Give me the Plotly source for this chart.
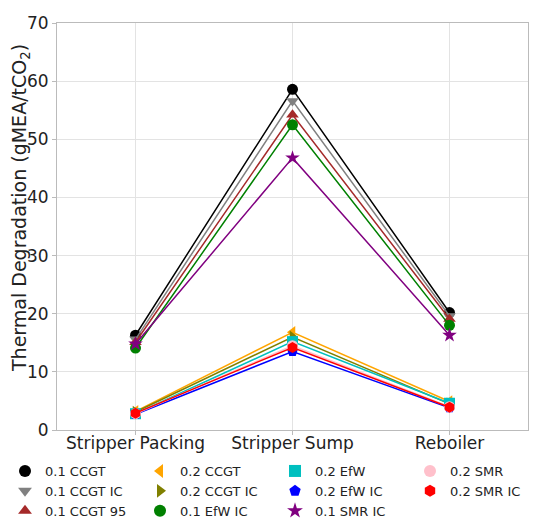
import plotly.graph_objects as go

stages = ["Stripper Packing", "Stripper Sump", "Reboiler"]

names = ["0.1 CCGT", "0.1 CCGT IC", "0.1 CCGT 95", "0.2 CCGT", "0.2 CCGT IC",
         "0.1 EfW IC", "0.2 EfW", "0.2 EfW IC", "0.1 SMR IC", "0.2 SMR", "0.2 SMR IC"]

v_01_ccgt = [16.3, 58.6, 20.2]
v_01_ccgt_ic = [15.6, 56.6, 19.6]
v_01_ccgt_95 = [15.1, 54.2, 19.1]
v_02_ccgt = [3.2, 16.8, 4.9]
v_02_ccgt_ic = [3.1, 16.0, 4.5]
v_01_efw_ic = [14.1, 52.5, 18.0]
v_02_efw = [2.8, 15.2, 4.6]
v_02_efw_ic = [2.7, 13.5, 3.8]
v_01_smr_ic = [14.8, 46.8, 16.3]
v_02_smr = [2.8, 14.5, 4.0]
v_02_smr_ic = [2.9, 14.2, 3.9]

values = [v_01_ccgt, v_01_ccgt_ic, v_01_ccgt_95, v_02_ccgt, v_02_ccgt_ic,
          v_01_efw_ic, v_02_efw, v_02_efw_ic, v_01_smr_ic, v_02_smr, v_02_smr_ic]

y_title = "Thermal Degradation (gMEA/tCO<sub>2</sub>)"

colors = ["black", "gray", "#a52a2a", "orange", "olive", "green", "#00bfbf",
          "blue", "purple", "pink", "red"]
symbols = ["circle", "triangle-down", "triangle-up", "triangle-left", "triangle-right",
           "circle", "square", "pentagon", "star", "circle", "hexagon"]

# legend ranks (row-major layout reproducing column-major order)
legend_pos = {0: 0, 1: 4, 2: 8, 3: 1, 4: 5, 5: 9, 6: 2, 7: 6, 8: 10, 9: 3, 10: 7}

W, H = 547, 518
L, R, T, B = 57, 528, 23, 430

fig = go.Figure()
for i, (n, v) in enumerate(zip(names, values)):
    fig.add_trace(go.Scatter(
        x=stages, y=v, mode="lines+markers", name=n, showlegend=False,
        line=dict(color=colors[i], width=1.5),
        marker=dict(color=colors[i], symbol=symbols[i], size=11),
    ))
for i, n in enumerate(names):
    fig.add_trace(go.Scatter(
        x=[None], y=[None], mode="markers", name=n,
        marker=dict(color=colors[i], symbol=symbols[i], size=11),
        legendrank=100 + legend_pos[i],
    ))

fig.update_layout(
    width=W, height=H,
    margin=dict(l=0, r=0, t=0, b=0, autoexpand=False),
    plot_bgcolor="white", paper_bgcolor="white",
    font=dict(family="DejaVu Sans", color="#222", size=13),
    legend=dict(orientation="h", x=5 / W, xanchor="left", y=(H - 456) / H, yanchor="top",
                entrywidth=90, font=dict(size=13), tracegroupgap=0,
                itemsizing="constant"),
)
fig.add_annotation(
    text=y_title, textangle=-90, xref="paper", yref="paper",
    x=20 / W, y=(H - 208) / H, xanchor="center", yanchor="middle",
    showarrow=False, font=dict(family="DejaVu Sans", size=19, color="#222"),
)
fig.update_xaxes(
    domain=[L / W, R / W],
    range=[-0.5, 2.5], showgrid=True, gridcolor="#e3e3e3",
    showline=True, linecolor="#bbbbbb", mirror=True,
    ticks="outside", ticklen=4, tickcolor="#bbbbbb",
    tickfont=dict(size=17, color="#222"), ticklabelstandoff=-6,
)
fig.update_yaxes(
    domain=[(H - B) / H, (H - T) / H],
    range=[0, 70], dtick=10, showgrid=True, gridcolor="#e3e3e3",
    showline=True, linecolor="#bbbbbb", mirror=True, zeroline=False,
    ticks="outside", ticklen=4, tickcolor="#bbbbbb",
    tickfont=dict(size=17, color="#222"),
)

fig.write_html("out.html")
